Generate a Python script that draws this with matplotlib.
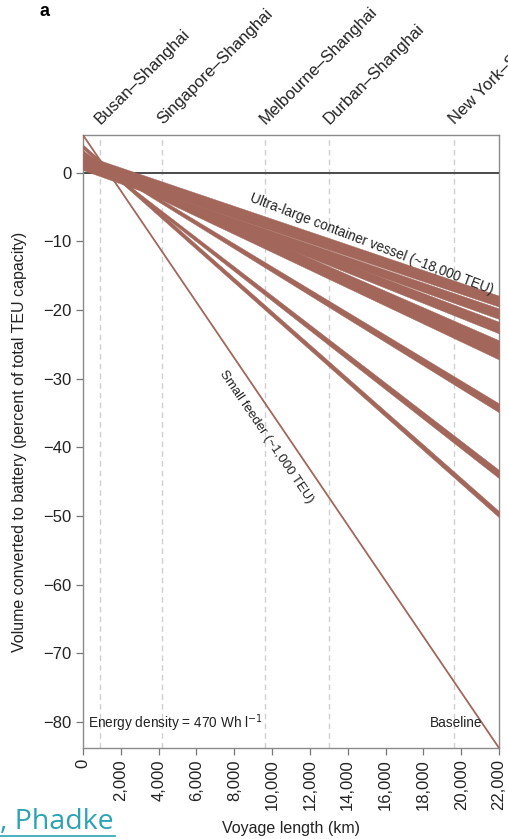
import matplotlib

matplotlib.use("Agg")
import matplotlib.pyplot as plt
from matplotlib import transforms

plt.rcParams["font.family"] = ["Liberation Sans", "DejaVu Sans"]

# voyage length range (km) at which band edges are given
voyage_km = [0, 22000]

# each band = range between two edges; value at 0 km and at 22,000 km
band_upper_start = [2.65, 0.94, 1.3, 2.0, 3.0, 3.3, 4.1]
band_upper_end = [-17.9, -19.75, -21.7, -24.4, -33.6, -43.3, -49.3]
band_lower_start = [0.8, 0.4, 0.9, 1.5, 2.6, 2.9, 3.5]
band_lower_end = [-19.5, -21.3, -23.4, -27.2, -34.9, -44.5, -50.2]

feeder_values = [5.5, -83.8]

routes = ["Busan–Shanghai", "Singapore–Shanghai", "Melbourne–Shanghai",
          "Durban–Shanghai", "New York–Shanghai"]
route_km = [900, 4180, 9630, 13000, 19630]

x_ticks = list(range(0, 22001, 2000))
y_ticks = list(range(0, -81, -10))

band_color = "#a3665a"

fig = plt.figure(figsize=(5.08, 8.39), dpi=100)
ax = fig.add_axes([0.1634, 0.1085, 0.8189, 0.7305])

for km in route_km:
    ax.axvline(km, color="#cfcfcf", lw=1.0, ls=(0, (4, 3)), zorder=1)
ax.axhline(0, color="#4a4a4a", lw=1.4, zorder=2)

for us, ue, ls_, le in zip(band_upper_start, band_upper_end, band_lower_start, band_lower_end):
    ax.fill_between(voyage_km, [us, ue], [ls_, le], color=band_color, lw=0.3,
                    edgecolor=band_color, zorder=3)
ax.plot(voyage_km, feeder_values, color=band_color, lw=1.3, zorder=3)

ax.set_xlim(0, 22000)
ax.set_ylim(-83.8, 5.5)
ax.set_xticks(x_ticks)
ax.set_xticklabels([f"{v:,}" for v in x_ticks], rotation=90)
ax.set_yticks(y_ticks)
ax.set_yticklabels([f"{v}".replace("-", "\u2212") for v in y_ticks])
ax.tick_params(axis="both", labelsize=12, length=5, width=0.9, color="#777777",
               labelcolor="#222222", pad=3)
for spine in ax.spines.values():
    spine.set_color("#8a8a8a")
    spine.set_linewidth(1.0)

ax.set_xlabel("Voyage length (km)", fontsize=11.5, color="#222222", labelpad=8)
ax.set_ylabel("Volume converted to battery (percent of total TEU capacity)",
              fontsize=11.5, color="#222222", labelpad=12)

trans = transforms.blended_transform_factory(ax.transData, ax.transAxes)
for name, km in zip(routes, route_km):
    ax.annotate(name, xy=(km, 1.0), xycoords=trans, xytext=(2, 6),
                textcoords="offset points", rotation=45, rotation_mode="anchor",
                ha="left", va="bottom", fontsize=12, color="#222222",
                annotation_clip=False)

ax.text(15240, -10.35, "Ultra-large container vessel (~18,000 TEU)", rotation=-21,
        rotation_mode="anchor", ha="center", va="center", fontsize=9.8, color="#222222")
ax.text(9700, -38.5, "Small feeder (~1,000 TEU)", rotation=-55.8,
        rotation_mode="anchor", ha="center", va="center", fontsize=9.5, color="#222222")
ax.text(250, -80.2, "Energy density = 470 Wh l$^{-1}$", ha="left", va="center",
        fontsize=9.8, color="#222222")
ax.text(21110, -80.2, "Baseline", ha="right", va="center", fontsize=9.8, color="#222222")

fig.text(40 / 508, 1 - 12 / 839, "a", fontsize=13, fontweight="bold", ha="left", va="center")
fig.text(0.0, 1 - 822 / 839, ", Phadke", fontsize=20.5, color="#2aa3b3",
         family=["Open Sans", "DejaVu Sans"], ha="left", va="center")
fig.add_artist(plt.Line2D([0.0, 115 / 508], [1 - 836 / 839, 1 - 836 / 839],
                          color="#2aa3b3", lw=1.2, transform=fig.transFigure))

fig.savefig("out.png", dpi=100)
